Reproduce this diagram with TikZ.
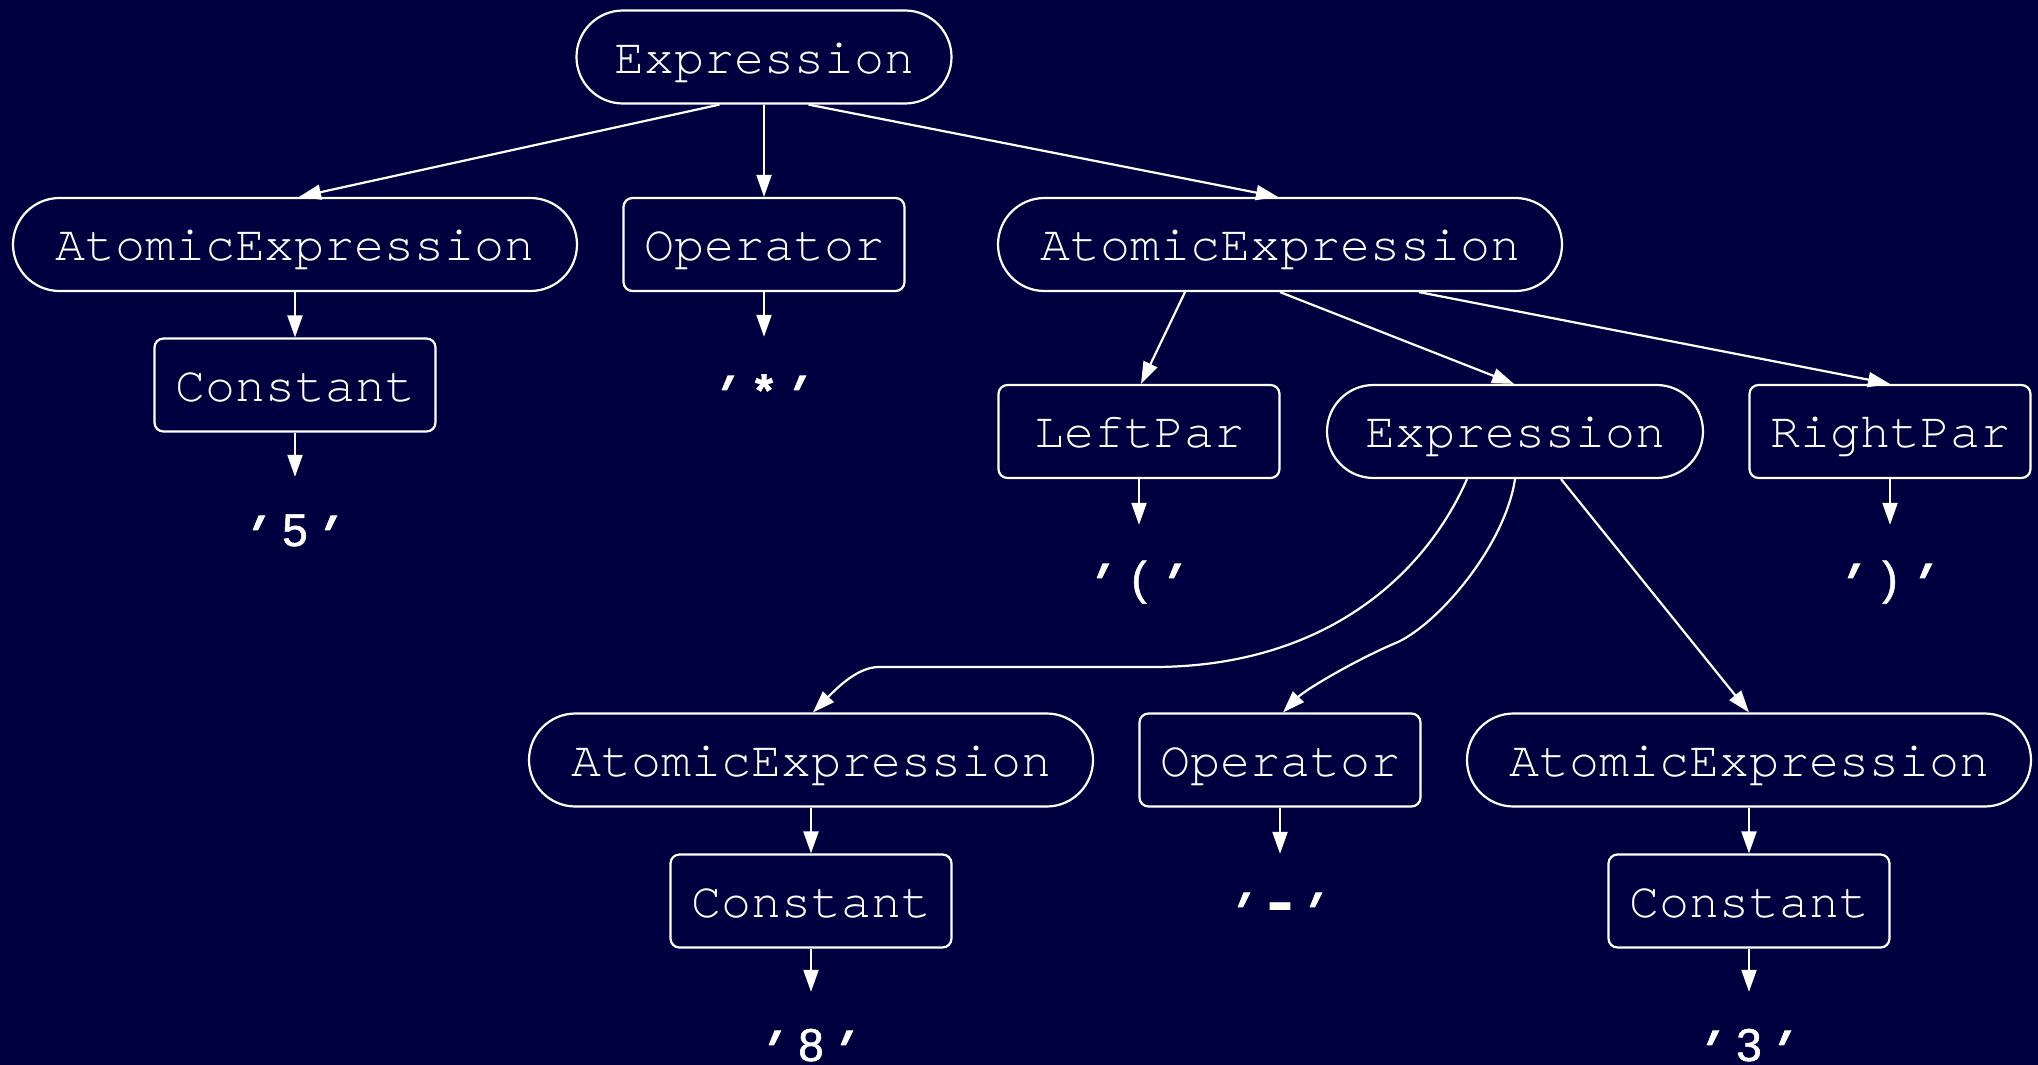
\documentclass[tikz,border=0pt]{standalone}
\usepackage{fontspec}
\usetikzlibrary{arrows.meta}
\newfontfamily\nodefont{texgyrecursor-regular.otf}
\newfontfamily\leaffont{Liberation Sans}[FakeBold=1.2]
\newfontfamily\primefont{Liberation Sans}[FakeSlant=0.45, FakeBold=1.5, Ligatures=ResetAll]
\definecolor{bg}{HTML}{000040}
% slanted straight quote; the kerns undo the sideways drift caused by the slant
\newcommand\tick{\makebox[36pt]{\kern-17.3pt\raisebox{-14.5pt}[32pt][0pt]{\primefont\fontsize{65}{65}\selectfont\symbol{39}}\kern17.3pt}}
\newcommand\leaftext[1]{\tick\makebox[36pt]{#1}\tick}
\tikzset{
  pill/.style={draw=white, line width=2.2pt, rounded corners=46.5pt,
    minimum height=93pt, minimum width=564pt, inner sep=0pt, text=white,
    text height=34.6pt, text depth=2pt,
    font=\nodefont\fontsize{50}{50}\selectfont},
  tag/.style={pill, rounded corners=9pt, minimum width=281pt},
  leaf/.style={text=white, anchor=base, inner sep=0pt,
    text height=69pt, text depth=0pt,
    font=\leaffont\fontsize{46}{46}\selectfont},
  edge/.style={draw=white, line width=2.2pt,
    -{Triangle[length=22pt,width=15pt]}}
}
\begin{document}
\begin{tikzpicture}[x=1pt,y=-1pt]
\useasboundingbox[fill=bg] (0,0) rectangle (2038,1065);

% tree nodes
\node[pill, minimum width=375pt] (e0) at (764,57) {Expression};
\node[pill] (a1) at (295,244.5) {AtomicExpression};
\node[tag]  (o1) at (764,244.5) {Operator};
\node[pill] (a2) at (1280,244.5) {AtomicExpression};
\node[tag]  (c1) at (295,385) {Constant};
\node[tag]  (lp) at (1139,431.5) {LeftPar};
\node[pill, minimum width=376pt] (e1) at (1515,431.5) {Expression};
\node[tag]  (rp) at (1890,431.5) {RightPar};
\node[pill] (a3) at (811,760) {AtomicExpression};
\node[tag]  (o2) at (1280,760) {Operator};
\node[pill] (a4) at (1749,760) {AtomicExpression};
\node[tag]  (c2) at (811,901) {Constant};
\node[tag]  (c3) at (1749,901) {Constant};

% terminal tokens
\node[leaf] (t5) at (295,546) {\leaftext{5}};
\node[leaf] (tm) at (764,406) {\leaftext{\textbf{*}}};
\node[leaf] (tl) at (1139,594) {\leaftext{(}};
\node[leaf] (tr) at (1890,594) {\leaftext{)}};
\node[leaf] (ts) at (1280,923) {\leaftext{\raisebox{2pt}{\scalebox{1.7}[1.25]{\textbf{-}}}}};
\node[leaf] (t8) at (811,1061) {\leaftext{8}};
\node[leaf] (t3) at (1749,1061) {\leaftext{3}};

% connectors
\draw[edge] ([xshift=-44.5pt]e0.south) -- ([xshift=4pt]a1.north);
\draw[edge] (e0.south) -- (o1.north);
\draw[edge] ([xshift=44.5pt]e0.south) -- ([xshift=-2pt]a2.north);
\draw[edge] (a1.south) -- (c1.north);
\draw[edge] (c1.south) -- (t5.north);
\draw[edge] (o1.south) -- (tm.north);
\draw[edge] ([xshift=-95pt]a2.south) -- ([xshift=2pt]lp.north);
\draw[edge] (a2.south) -- ([xshift=-1pt]e1.north);
\draw[edge] ([xshift=139pt]a2.south) -- (rp.north);
\draw[edge] (lp.south) -- (tl.north);
\draw[edge] (rp.south) -- (tr.north);
\draw[edge] ([xshift=-48pt]e1.south) .. controls (1425,575) and (1325,667) .. (1153,667)
  -- (879,667) .. controls (858,667) and (838,687) .. ([xshift=2pt]a3.north);
\draw[edge] (e1.south) .. controls (1505,545) and (1440,622) .. (1398,642)
  .. controls (1355,660) and (1305,690) .. ([xshift=3pt]o2.north);
\draw[edge] ([xshift=46pt]e1.south) -- (a4.north);
\draw[edge] (a3.south) -- (c2.north);
\draw[edge] (o2.south) -- (ts.north);
\draw[edge] (a4.south) -- (c3.north);
\draw[edge] (c2.south) -- (t8.north);
\draw[edge] (c3.south) -- (t3.north);
\end{tikzpicture}
\end{document}
